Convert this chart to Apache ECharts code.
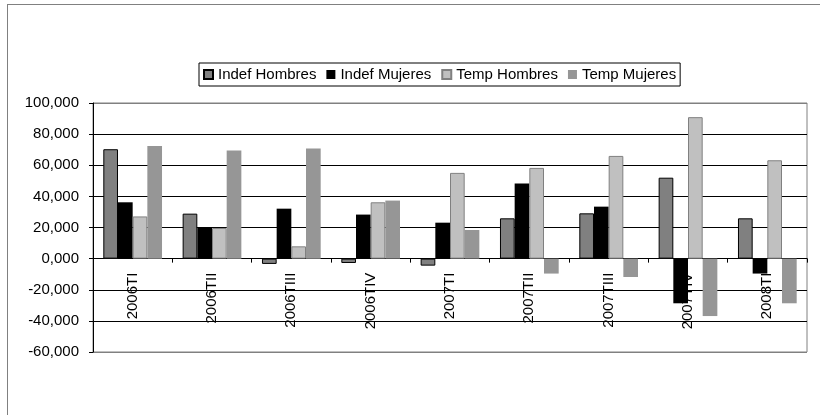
<!DOCTYPE html>
<html>
<head>
<meta charset="utf-8">
<script src="https://cdn.jsdelivr.net/npm/echarts@6/dist/echarts.min.js"></script>
<style>
  html, body { margin: 0; padding: 0; background: #fff; overflow: hidden; }
  #frame { position: absolute; left: 7px; top: 4px; width: 900px; height: 500px; border: 1px solid #808080; box-sizing: border-box; }
  #chart { position: absolute; left: 0; top: 0; width: 820px; height: 415px; }
</style>
</head>
<body>
<div id="frame"></div>
<div id="chart"></div>
<script>
const categories = ['2006TI', '2006TII', '2006TIII', '2006TIV', '2007TI', '2007TII', '2007TIII', '2007TIV', '2008TI'];
const indefHombres = [70300, 28900, -3400, -2800, -4500, 25900, 29100, 52000, 25900];
const indefMujeres = [36200, 20300, 32100, 28300, 23100, 48200, 33400, -28700, -9600];
const tempHombres  = [27100, 19700, 7900, 36200, 55100, 58300, 66000, 90900, 63200];
const tempMujeres  = [72300, 69400, 70700, 37300, 18400, -9600, -11800, -36900, -28700];
const seriesNames = ['Indef Hombres', 'Indef Mujeres', 'Temp Hombres', 'Temp Mujeres'];
const yTickValues = [-60000, -40000, -20000, 0, 20000, 40000, 60000, 80000, 100000];
const yTickLabels = ['-60,000', '-40,000', '-20,000', '0,000', '20,000', '40,000', '60,000', '80,000', '100,000'];

const FONT = "'Liberation Sans', Arial, sans-serif";
const chart = echarts.init(document.getElementById('chart'));

const styles = [
  { color: '#808080', borderColor: '#000000', borderWidth: 1 },
  { color: '#000000' },
  { color: '#c0c0c0', borderColor: '#808080', borderWidth: 1 },
  { color: '#969696' }
];
const dataSets = [indefHombres, indefMujeres, tempHombres, tempMujeres];

const G = { left: 93, right: 13, top: 103, bottom: 63 };
const H = 415;
const yMin = yTickValues[0], yMax = yTickValues[yTickValues.length - 1];
const gridH = H - G.top - G.bottom;
// move the category axis (line, ticks, labels) up to the zero line
const zeroOffset = -gridH * (0 - yMin) / (yMax - yMin);

chart.setOption({
  animation: false,
  backgroundColor: 'transparent',
  textStyle: { fontFamily: FONT },
  legend: {
    left: 199,
    top: 63,
    padding: [4, 4],
    itemGap: 10,
    itemWidth: 9,
    itemHeight: 9,
    borderColor: '#000',
    borderWidth: 1,
    backgroundColor: '#fff',
    icon: 'rect',
    textStyle: { fontFamily: FONT, fontSize: 15, color: '#000' },
    data: seriesNames
  },
  grid: {
    left: G.left, right: G.right, top: G.top, bottom: G.bottom,
    outerBoundsMode: 'none',
    containLabel: false,
    show: true, borderColor: '#808080', borderWidth: 1, backgroundColor: 'transparent'
  },
  xAxis: {
    type: 'category',
    data: categories,
    offset: zeroOffset,
    axisLine: { onZero: false, lineStyle: { color: '#000', width: 1 } },
    axisTick: { show: true, alignWithLabel: false, length: 4, lineStyle: { color: '#000' } },
    axisLabel: { rotate: 90, interval: 0, margin: 14, fontFamily: FONT, fontSize: 15, color: '#000' },
    z: 0
  },
  yAxis: {
    type: 'value',
    min: yMin,
    max: yMax,
    interval: 20000,
    axisLine: { show: true, lineStyle: { color: '#000', width: 1 } },
    axisTick: { show: true, length: 4, lineStyle: { color: '#000' } },
    axisLabel: {
      margin: 14, fontFamily: FONT, fontSize: 15, color: '#000',
      formatter: v => { const i = yTickValues.indexOf(v); return i >= 0 ? yTickLabels[i] : ''; }
    },
    splitLine: {
      show: true,
      lineStyle: { color: ['#808080', '#000', '#000', '#000', '#000', '#000', '#000', '#000', '#808080'], width: 1 }
    }
  },
  series: dataSets.map((d, i) => ({
    name: seriesNames[i],
    type: 'bar',
    data: d,
    barGap: '0%',
    barCategoryGap: '26%',
    itemStyle: styles[i],
    z: 2
  }))
});
</script>
</body>
</html>
